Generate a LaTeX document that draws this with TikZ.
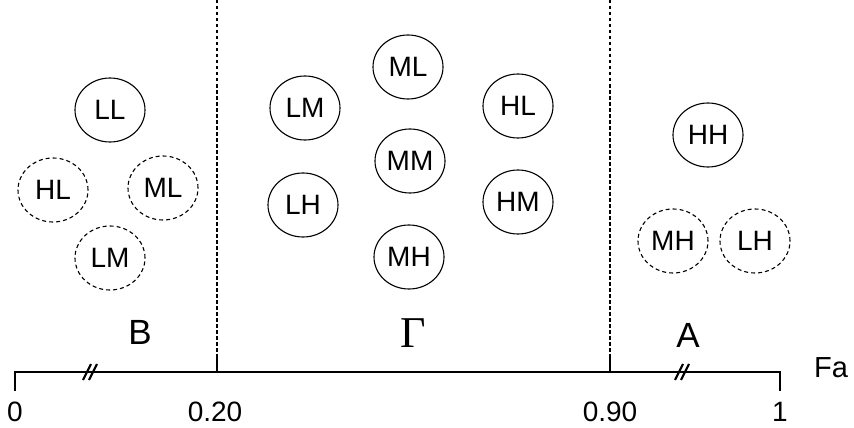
\documentclass[tikz,border=0pt]{standalone}
\usepackage{fontspec}
\setmainfont{Liberation Sans}
\newfontfamily\gserif{Liberation Serif}
\usetikzlibrary{shapes.geometric}
\begin{document}
\begin{tikzpicture}[x=1pt,y=-1pt,
  st/.style={draw,ellipse,minimum width=70pt,minimum height=64pt,inner sep=0pt,line width=1.1pt,font=\fontsize{28}{28}\selectfont},
  ds/.style={st,dashed,dash pattern=on 4pt off 3pt},
  lab/.style={font=\fontsize{35}{35}\selectfont},
  tick/.style={font=\fontsize{28}{28}\selectfont},
  axis/.style={line width=2.6pt},
  sep/.style={line width=1.8pt,dash pattern=on 3.5pt off 2.5pt}]
\useasboundingbox (0,0) rectangle (854,428);
% region B
\node[st] (bLL) at (110,110) {LL};
\node[ds] (bHL) at (53,190) {HL};
\node[ds] (bML) at (163,188) {ML};
\node[ds] (bLM) at (110,258) {LM};
% region Gamma
\node[st] (gML) at (408,67) {ML};
\node[st] (gLM) at (305,108) {LM};
\node[st] (gHL) at (518,106) {HL};
\node[st] (gMM) at (410,161) {MM};
\node[st] (gLH) at (303,205) {LH};
\node[st] (gHM) at (518,202) {HM};
\node[st] (gMH) at (409,257) {MH};
% region A
\node[st] (aHH) at (708,135) {HH};
\node[ds] (aMH) at (673,241) {MH};
\node[ds] (aLH) at (755,241) {LH};
% labels
\node[lab] (lB) at (140,332) {B};
\node[font=\gserif\fontsize{44}{44}\selectfont] (lG) at (413,333) {Γ};
\node[lab] (lA) at (688,335) {A};
\node[font=\fontsize{29}{29}\selectfont] (lFa) at (831,368) {Fa};
% axis
\coordinate (p0) at (15,372);
\coordinate (p1) at (780,372);
\coordinate (q0) at (15,391);
\coordinate (q1) at (780,391);
\draw[axis,line cap=butt] (q0) -- (p0) -- (p1) -- (q1);
\coordinate (s1t) at (217,0);
\coordinate (s1m) at (217,355);
\coordinate (s1b) at (217,372);
\coordinate (s2t) at (610,0);
\coordinate (s2m) at (610,355);
\coordinate (s2b) at (610,372);
\draw[sep] (s1t) -- (s1m);
\draw[sep] (s2t) -- (s2m);
\draw[line width=1.8pt] (s1m) -- (s1b);
\draw[line width=1.8pt] (s2m) -- (s2b);
% break marks
\foreach \x in {87,93,679,685}{
  \draw[line width=2.2pt] (\x-4,380) -- (\x+4,364);
}
\node[tick] (t0) at (15,412) {0};
\node[tick] (t20) at (215,412) {0.20};
\node[tick] (t90) at (610,412) {0.90};
\node[tick] (t1) at (780,412) {1};
\end{tikzpicture}
\end{document}
